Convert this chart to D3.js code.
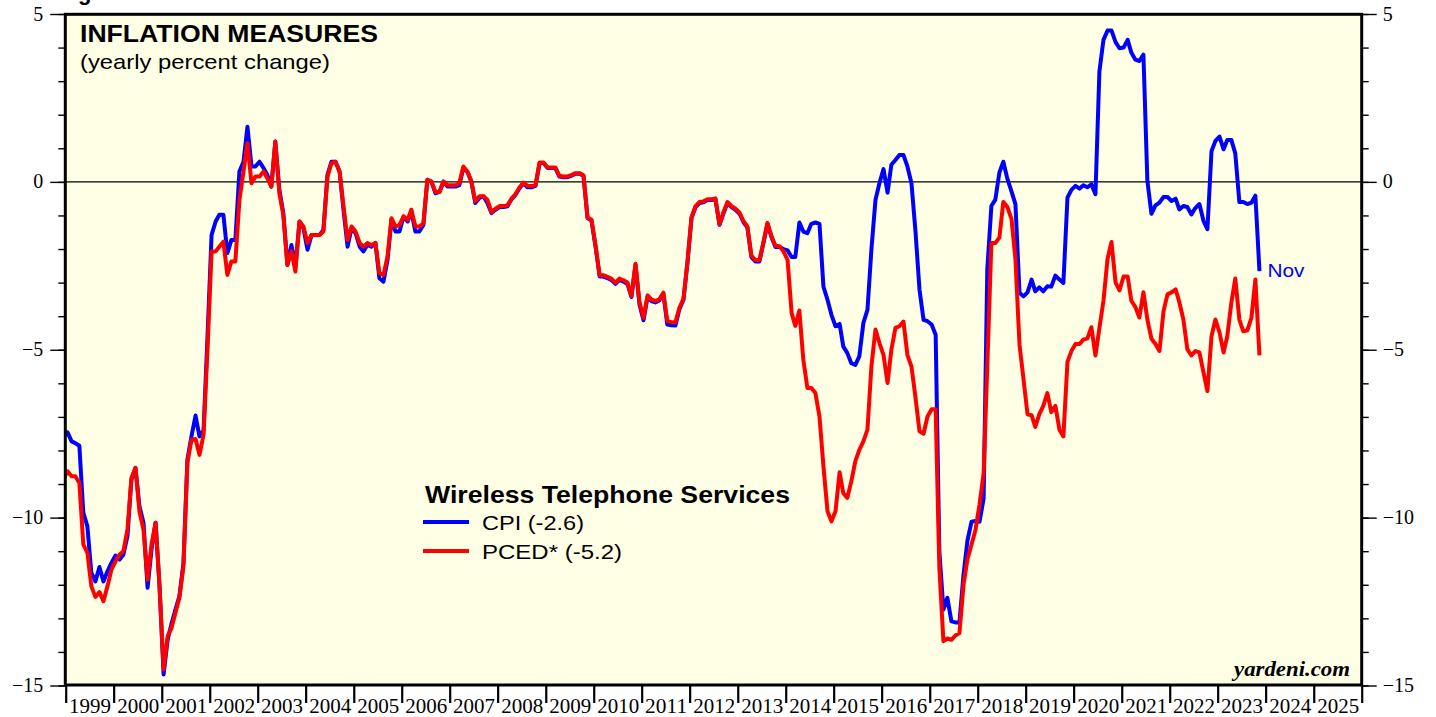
<!DOCTYPE html>
<html>
<head>
<meta charset="utf-8">
<script src="https://cdn.jsdelivr.net/npm/d3@7"></script>
<style>
  html, body { margin: 0; padding: 0; background: #fff; overflow: hidden; }
  svg { display: block; }
</style>
</head>
<body>
<svg id="chart" width="1436" height="717"></svg>
<script>
// monthly yearly % change, first value = Dec 1998, last value = Nov 2023
const firstMonth = new Date(1998, 11, 15);

const cpi = [
  -7.58,-7.46,-7.73,-7.78,-7.86,-9.85,-10.26,-11.64,-11.9,-11.47,-11.9,-11.6,
  -11.35,-11.13,-11.25,-11.1,-10.55,-8.87,-8.52,-9.66,-10.15,-12.09,-10.95,-10.15,
  -12.04,-14.67,-13.63,-13.18,-12.74,-12.34,-11.35,-8.27,-7.58,-6.96,-7.58,-7.4,
  -4.6,-1.58,-1.18,-0.98,-0.98,-2.12,-1.73,-1.73,0.31,0.6,1.64,0.46,
  0.46,0.6,0.41,0.21,-0.14,1.2,-0.24,-0.93,-2.47,-1.88,-2.52,-1.18,
  -1.38,-2.02,-1.58,-1.58,-1.58,-1.43,0.21,0.6,0.6,0.31,-0.83,-1.93,
  -1.38,-1.53,-1.93,-2.07,-1.88,-1.93,-1.82,-2.87,-2.97,-2.32,-1.13,-1.48,
  -1.48,-1.03,-1.18,-0.88,-1.48,-1.48,-1.28,0.06,0.01,-0.34,-0.3,0.01,
  -0.14,-0.14,-0.14,-0.1,0.41,0.31,0.01,-0.63,-0.48,-0.43,-0.63,-0.93,
  -0.83,-0.75,-0.75,-0.73,-0.52,-0.39,-0.19,-0.04,-0.16,-0.16,-0.12,0.56,
  0.56,0.41,0.41,0.41,0.16,0.14,0.14,0.18,0.24,0.24,0.18,-1.08,
  -1.15,-1.93,-2.82,-2.82,-2.87,-2.92,-3.04,-2.92,-2.97,-3.04,-3.43,-2.47,
  -3.65,-4.12,-3.42,-3.55,-3.59,-3.53,-3.33,-4.25,-4.27,-4.28,-3.79,-3.51,
  -2.42,-1.08,-0.75,-0.63,-0.61,-0.54,-0.54,-0.51,-1.28,-0.93,-0.63,-0.75,
  -0.83,-0.95,-1.21,-1.35,-2.24,-2.37,-2.37,-1.83,-1.25,-1.65,-1.94,-1.94,
  -2.0,-2.04,-2.24,-2.24,-1.21,-1.48,-1.53,-1.25,-1.21,-1.25,-3.12,-3.51,
  -3.96,-4.3,-4.23,-4.9,-5.1,-5.4,-5.45,-5.2,-4.2,-3.81,-2.02,-0.54,
  -0.04,0.38,-0.32,0.51,0.65,0.8,0.8,0.46,-0.04,-1.5,-3.21,-4.11,
  -4.15,-4.25,-4.55,-11.0,-12.74,-12.39,-13.09,-13.12,-13.12,-11.7,-10.68,-10.12,
  -10.1,-10.12,-9.43,-2.6,-0.72,-0.53,0.28,0.6,0.09,-0.28,-0.66,-3.3,
  -3.41,-3.29,-2.91,-3.26,-3.14,-3.26,-3.11,-3.12,-2.79,-2.91,-3.01,-0.47,
  -0.24,-0.12,-0.2,-0.1,-0.16,-0.07,-0.37,3.29,4.23,4.51,4.51,4.16,
  3.98,4.0,4.23,3.85,3.64,3.6,3.79,0.03,-0.95,-0.7,-0.62,-0.45,
  -0.45,-0.57,-0.5,-0.82,-0.72,-0.75,-0.97,-0.78,-0.66,-1.16,-1.41,0.91,
  1.22,1.35,0.97,1.25,1.25,0.85,-0.6,-0.6,-0.66,-0.62,-0.41,-2.66
];

const pced = [
  -8.85,-8.62,-8.77,-8.77,-8.97,-10.8,-11.05,-12.04,-12.36,-12.22,-12.49,-12.04,
  -11.55,-11.3,-11.1,-11.0,-10.36,-8.82,-8.52,-9.81,-10.36,-11.85,-10.8,-10.15,
  -12.04,-14.52,-13.53,-13.3,-12.84,-12.39,-11.45,-8.37,-7.68,-7.66,-8.13,-7.53,
  -5.0,-2.07,-2.07,-1.93,-1.78,-2.77,-2.37,-2.37,-0.54,0.31,1.15,-0.04,
  0.16,0.16,0.31,0.11,-0.14,1.2,-0.34,-0.98,-2.47,-2.07,-2.67,-1.18,
  -1.33,-1.82,-1.58,-1.58,-1.58,-1.48,0.16,0.56,0.6,0.31,-0.73,-1.73,
  -1.33,-1.48,-1.82,-1.93,-1.82,-1.88,-1.82,-2.72,-2.77,-2.22,-1.08,-1.33,
  -1.28,-1.03,-1.13,-0.83,-1.33,-1.33,-1.23,0.06,0.01,-0.3,-0.3,0.01,
  -0.1,-0.1,-0.1,-0.04,0.46,0.31,0.01,-0.58,-0.43,-0.43,-0.53,-0.9,
  -0.8,-0.72,-0.72,-0.7,-0.5,-0.37,-0.17,-0.02,-0.12,-0.12,-0.1,0.58,
  0.58,0.43,0.43,0.43,0.18,0.16,0.16,0.2,0.26,0.26,0.2,-1.06,
  -1.13,-1.9,-2.78,-2.78,-2.83,-2.88,-3.0,-2.88,-2.93,-3.0,-3.4,-2.44,
  -3.58,-4.05,-3.38,-3.5,-3.55,-3.5,-3.3,-4.15,-4.17,-4.18,-3.75,-3.48,
  -2.4,-1.05,-0.72,-0.6,-0.58,-0.52,-0.52,-0.49,-1.26,-0.9,-0.6,-0.72,
  -0.8,-0.92,-1.18,-1.32,-2.2,-2.33,-2.33,-1.8,-1.22,-1.62,-1.9,-1.92,
  -2.07,-2.32,-3.91,-4.29,-3.83,-5.3,-6.14,-6.14,-6.29,-6.99,-8.47,-9.81,
  -10.11,-9.81,-8.65,-9.27,-9.41,-8.92,-8.32,-7.98,-7.73,-7.38,-5.5,-4.4,
  -4.8,-5.15,-5.99,-5.0,-4.35,-4.3,-4.16,-5.15,-5.5,-6.44,-7.43,-7.5,
  -6.99,-6.77,-6.77,-11.5,-13.68,-13.6,-13.64,-13.51,-13.44,-12.0,-11.24,-10.8,
  -10.37,-9.6,-8.68,-5.48,-1.82,-1.82,-1.66,-0.6,-0.75,-1.1,-2.3,-4.85,
  -5.86,-6.92,-6.95,-7.3,-6.92,-6.67,-6.29,-6.86,-6.67,-7.38,-7.58,-5.36,
  -5.04,-4.83,-4.83,-4.7,-4.66,-4.33,-5.17,-4.35,-3.54,-2.29,-1.79,-3.0,
  -3.23,-2.82,-2.82,-3.54,-3.73,-4.04,-3.29,-4.1,-4.67,-4.83,-5.04,-3.85,
  -3.35,-3.29,-3.2,-3.58,-4.1,-4.98,-5.17,-5.04,-5.08,-5.67,-6.23,-4.6,
  -4.1,-4.48,-5.08,-4.6,-3.6,-2.88,-4.1,-4.45,-4.42,-4.04,-2.91,-5.17
];

const yearTicks = d3.range(1999, 2027);
const yearLabels = d3.range(1999, 2026);
const yMajor = [5, 0, -5, -10, -15];
const yMinor = d3.range(-15, 6);
const seriesNames = ["CPI (-2.6)", "PCED* (-5.2)"];
const seriesColors = ["#0000ff", "#ff0000"];

const svg = d3.select("#chart");
const plotL = 65.3, plotR = 1361.7, plotT = 14.3, plotB = 685;

const x = d3.scaleTime()
  .domain([new Date(1999, 0, 1), new Date(2026, 0, 1)])
  .range([65.7, 1361.7]);
const y = d3.scaleLinear().domain([-15, 5]).range([685.5, 14]);

// plot background
svg.append("rect")
  .attr("x", plotL).attr("y", plotT)
  .attr("width", plotR - plotL).attr("height", plotB - plotT)
  .attr("fill", "#ffffe5");

svg.append("clipPath").attr("id", "clip")
  .append("rect")
  .attr("x", plotL).attr("y", plotT)
  .attr("width", plotR - plotL).attr("height", plotB - plotT);

// zero line
svg.append("line")
  .attr("x1", plotL).attr("x2", plotR)
  .attr("y1", y(0)).attr("y2", y(0))
  .attr("stroke", "#000").attr("stroke-width", 1.2);

const monthDate = (i) => d3.timeMonth.offset(firstMonth, i);
const line = d3.line()
  .x((d, i) => x(monthDate(i)))
  .y(d => y(d));

const g = svg.append("g").attr("clip-path", "url(#clip)");
[cpi, pced].forEach((s, k) => {
  g.append("path")
    .datum(s)
    .attr("d", line)
    .attr("fill", "none")
    .attr("stroke", seriesColors[k])
    .attr("stroke-width", 4)
    .attr("stroke-linejoin", "round");
});

// frame
svg.append("rect")
  .attr("x", plotL).attr("y", plotT)
  .attr("width", plotR - plotL).attr("height", plotB - plotT)
  .attr("fill", "none").attr("stroke", "#000").attr("stroke-width", 3);

// y axes, left and right
function yAxes(axisFn, xPos, bigLen, smallLen, pad) {
  const minor = svg.append("g")
    .attr("transform", `translate(${xPos},0)`)
    .call(axisFn(y).tickValues(yMinor).tickSize(smallLen).tickFormat(""));
  const major = svg.append("g")
    .attr("transform", `translate(${xPos},0)`)
    .call(axisFn(y).tickValues(yMajor).tickSize(bigLen).tickPadding(pad).tickFormat(d3.format("d")));
  [minor, major].forEach(a => {
    a.select(".domain").remove();
    a.selectAll("line").attr("stroke", "#000").attr("stroke-width", 1.4);
  });
  major.selectAll("text")
    .attr("font-family", "'Liberation Serif', 'Times New Roman', serif")
    .attr("font-size", 20)
    .attr("fill", "#000")
    .attr("dy", "0.3em");
}
yAxes(d3.axisLeft, plotL, 15, 7, 7);
yAxes(d3.axisRight, plotR, 15, 7, 6);

// x axis: year boundaries and labels
const xTicks = svg.append("g")
  .attr("transform", `translate(0,${plotB})`)
  .call(d3.axisBottom(x).tickValues(yearTicks.map(yr => new Date(yr, 0, 1))).tickSize(18).tickFormat(""));
xTicks.select(".domain").remove();
xTicks.selectAll("line").attr("stroke", "#000").attr("stroke-width", 2.2);

const xLabels = svg.append("g")
  .attr("transform", `translate(0,${plotB})`)
  .call(d3.axisBottom(x).tickValues(yearLabels.map(yr => new Date(yr, 6, 2))).tickSize(0).tickFormat(d3.timeFormat("%Y")));
xLabels.select(".domain").remove();
xLabels.selectAll("text")
  .attr("y", 28).attr("dy", 0)
  .attr("font-family", "'Liberation Serif', 'Times New Roman', serif")
  .attr("font-size", 20)
  .attr("textLength", 42).attr("lengthAdjust", "spacingAndGlyphs")
  .attr("fill", "#000");

// titles
const sans = "'Liberation Sans', Arial, sans-serif";
svg.append("text")
  .attr("x", 80).attr("y", 42)
  .attr("font-family", sans).attr("font-weight", "bold").attr("font-size", 23)
  .attr("textLength", 298).attr("lengthAdjust", "spacingAndGlyphs")
  .text("INFLATION MEASURES");
svg.append("text")
  .attr("x", 80).attr("y", 69)
  .attr("font-family", sans).attr("font-size", 21)
  .attr("textLength", 250).attr("lengthAdjust", "spacingAndGlyphs")
  .text("(yearly percent change)");
svg.append("text")
  .attr("x", 78).attr("y", 0)
  .attr("font-family", sans).attr("font-weight", "bold").attr("font-size", 22)
  .text("g");

// legend
svg.append("text")
  .attr("x", 425).attr("y", 503)
  .attr("font-family", sans).attr("font-weight", "bold").attr("font-size", 23)
  .attr("textLength", 365).attr("lengthAdjust", "spacingAndGlyphs")
  .text("Wireless Telephone Services");
const legendY = [522, 551];
const legendLen = [102, 140];
seriesNames.forEach((name, k) => {
  svg.append("line")
    .attr("x1", 423).attr("x2", 469)
    .attr("y1", legendY[k]).attr("y2", legendY[k])
    .attr("stroke", seriesColors[k]).attr("stroke-width", 4);
  svg.append("text")
    .attr("x", 482).attr("y", legendY[k] + 8)
    .attr("font-family", sans).attr("font-size", 21)
    .attr("textLength", legendLen[k]).attr("lengthAdjust", "spacingAndGlyphs")
    .text(name);
});

// last-month marker
const lastI = cpi.length - 1;
svg.append("text")
  .attr("x", x(monthDate(lastI)) + 8)
  .attr("y", y(cpi[lastI]) + 6)
  .attr("font-family", sans).attr("font-size", 19)
  .attr("textLength", 37).attr("lengthAdjust", "spacingAndGlyphs")
  .attr("fill", "#0000ff")
  .text("Nov");

svg.append("text")
  .attr("x", 1350).attr("y", 676)
  .attr("text-anchor", "end")
  .attr("font-family", "'Liberation Serif', 'Times New Roman', serif")
  .attr("font-weight", "bold").attr("font-style", "italic").attr("font-size", 21)
  .attr("textLength", 116).attr("lengthAdjust", "spacingAndGlyphs")
  .text("yardeni.com");
</script>
</body>
</html>
